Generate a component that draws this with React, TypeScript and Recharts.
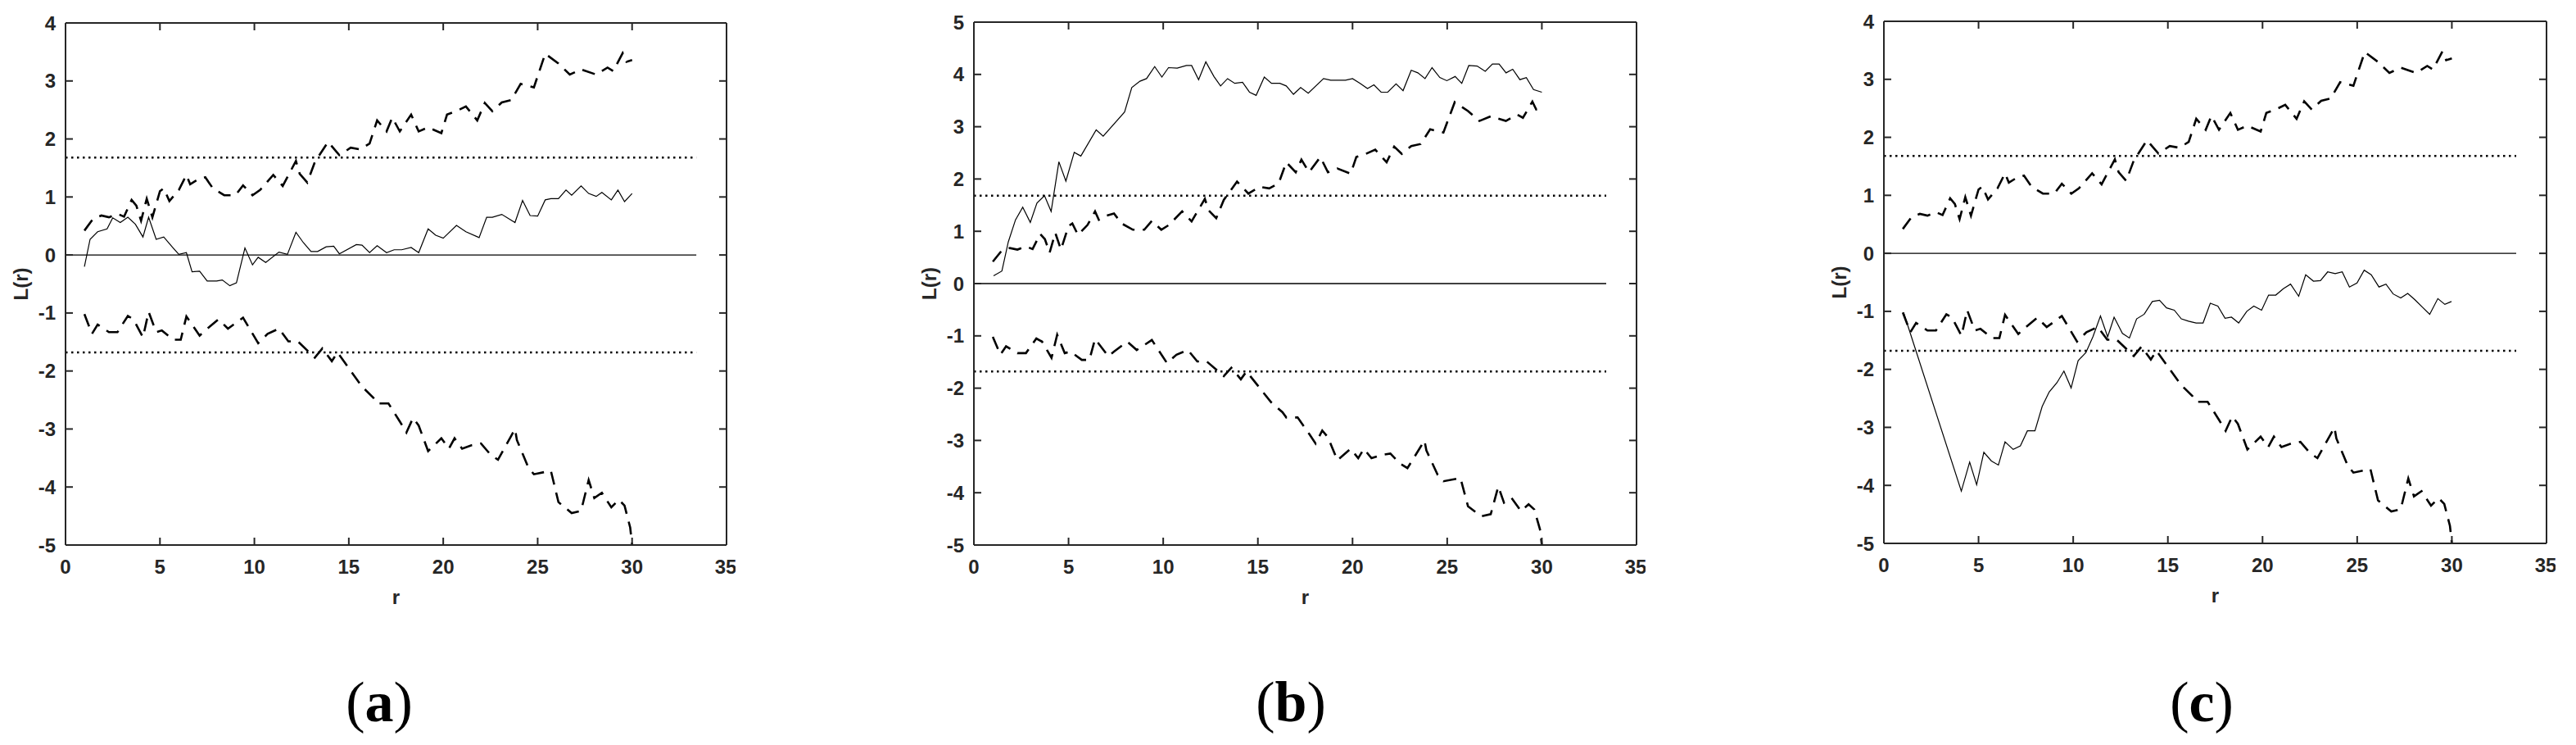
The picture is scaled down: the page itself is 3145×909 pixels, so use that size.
import React from "react";
import {
  LineChart,
  Line,
  XAxis,
  YAxis,
  ReferenceLine,
  Label,
} from "recharts";

/* ── Data (r, L(r)) ─────────────────────────────────────────── */
type Pt = [number, number];

const upperEnvelope: Pt[] = [
  [1.0, 0.42], [1.45, 0.62], [1.9, 0.68], [2.3, 0.65], [2.75, 0.71], [3.1, 0.66],
  [3.5, 0.95], [3.75, 0.85], [4.0, 0.59], [4.3, 0.97], [4.6, 0.65], [5.0, 1.1],
  [5.2, 1.15], [5.5, 0.93], [6.0, 1.12], [6.4, 1.38], [6.6, 1.22], [7.0, 1.3],
  [7.4, 1.34], [7.8, 1.15], [8.4, 1.03], [9.0, 1.03], [9.4, 1.2], [9.9, 1.03],
  [10.3, 1.12], [11.0, 1.38], [11.5, 1.19], [12.2, 1.62], [12.4, 1.4], [12.8, 1.25],
  [13.2, 1.6], [13.9, 1.95], [14.5, 1.72], [15.1, 1.85], [15.6, 1.82], [16.1, 1.92],
  [16.5, 2.32], [17.0, 2.13], [17.3, 2.37], [17.7, 2.13], [18.3, 2.42], [18.7, 2.13],
  [19.2, 2.2], [19.9, 2.1], [20.2, 2.42], [20.7, 2.48], [21.2, 2.56], [21.8, 2.32],
  [22.2, 2.62], [22.6, 2.48], [23.1, 2.63], [23.6, 2.67], [24.1, 2.95], [24.8, 2.89],
  [25.4, 3.47], [26.1, 3.3], [26.7, 3.11], [27.3, 3.2], [28.1, 3.11], [28.7, 3.23],
  [29.0, 3.17], [29.5, 3.48], [29.7, 3.33], [30.0, 3.36],
];

const lowerEnvelope: Pt[] = [
  [1.0, -1.02], [1.4, -1.36], [1.7, -1.2], [2.3, -1.33], [2.75, -1.33], [3.3, -1.05],
  [3.6, -1.11], [4.1, -1.42], [4.4, -0.98], [4.8, -1.33], [5.1, -1.3], [5.7, -1.46],
  [6.1, -1.46], [6.4, -1.06], [7.1, -1.39], [7.4, -1.3], [8.1, -1.11], [8.6, -1.27],
  [8.9, -1.2], [9.4, -1.08], [10.2, -1.52], [10.7, -1.36], [11.3, -1.27], [11.8, -1.49],
  [12.3, -1.49], [13.2, -1.77], [13.6, -1.61], [14.1, -1.83], [14.4, -1.68], [15.7, -2.27],
  [16.3, -2.46], [16.5, -2.56], [17.1, -2.56], [17.7, -2.87], [18.05, -3.06], [18.4, -2.81],
  [18.7, -2.94], [19.2, -3.38], [19.9, -3.16], [20.3, -3.34], [20.6, -3.16], [21.0, -3.34],
  [21.5, -3.28], [22.0, -3.25], [22.5, -3.44], [22.9, -3.53], [23.6, -3.12], [23.8, -3.0],
  [23.9, -3.19], [24.5, -3.66], [24.8, -3.78], [25.7, -3.72], [26.1, -4.26], [26.8, -4.45],
  [27.3, -4.41], [27.7, -3.88], [28.0, -4.19], [28.4, -4.1], [28.9, -4.35], [29.3, -4.22],
  [29.6, -4.32], [29.9, -4.7], [30.0, -5.0],
];

const observedA: Pt[] = [
  [1.0, -0.2], [1.3, 0.27], [1.7, 0.4], [2.2, 0.45], [2.5, 0.64], [2.9, 0.56],
  [3.3, 0.65], [3.7, 0.53], [4.1, 0.31], [4.4, 0.65], [4.8, 0.27], [5.2, 0.31],
  [5.7, 0.12], [6.0, 0.01], [6.4, 0.04], [6.7, -0.29], [7.1, -0.28], [7.5, -0.45],
  [8.0, -0.45], [8.3, -0.43], [8.7, -0.53], [9.05, -0.48], [9.5, 0.12], [9.9, -0.17],
  [10.2, -0.04], [10.6, -0.13], [11.3, 0.05], [11.75, 0.01], [12.2, 0.39], [12.6, 0.21],
  [13.0, 0.06], [13.35, 0.06], [13.8, 0.14], [14.2, 0.15], [14.5, 0.02], [15.4, 0.18],
  [15.7, 0.17], [16.1, 0.04], [16.5, 0.16], [17.0, 0.04], [17.4, 0.09], [17.8, 0.09],
  [18.3, 0.13], [18.7, 0.04], [19.2, 0.45], [19.6, 0.34], [20.0, 0.29], [20.7, 0.51],
  [21.2, 0.4], [21.9, 0.3], [22.3, 0.65], [22.6, 0.65], [23.1, 0.7], [23.8, 0.56],
  [24.2, 0.94], [24.6, 0.68], [25.0, 0.67], [25.4, 0.95], [25.7, 0.97], [26.1, 0.97],
  [26.5, 1.12], [26.8, 1.03], [27.3, 1.19], [27.7, 1.06], [28.1, 1.01], [28.4, 1.08],
  [28.9, 0.95], [29.25, 1.12], [29.6, 0.92], [30.0, 1.06],
];

const observedB: Pt[] = [
  [1.04, 0.15], [1.48, 0.24], [1.82, 0.8], [2.2, 1.22], [2.58, 1.46], [2.98, 1.17],
  [3.33, 1.54], [3.73, 1.68], [4.08, 1.38], [4.49, 2.33], [4.86, 1.96], [5.3, 2.51],
  [5.65, 2.44], [6.46, 2.94], [6.83, 2.82], [7.96, 3.28], [8.34, 3.75], [8.77, 3.87],
  [9.12, 3.92], [9.55, 4.15], [9.93, 3.95], [10.28, 4.13], [10.74, 4.12], [11.23, 4.17],
  [11.5, 4.17], [11.87, 3.9], [12.25, 4.24], [12.68, 3.96], [13.03, 3.78], [13.4, 3.92],
  [13.78, 3.83], [14.19, 3.85], [14.56, 3.66], [14.91, 3.6], [15.34, 3.95], [15.72, 3.83],
  [16.16, 3.83], [16.5, 3.78], [16.88, 3.62], [17.26, 3.75], [17.66, 3.64], [18.47, 3.92],
  [18.85, 3.89], [19.63, 3.89], [20.0, 3.92], [20.4, 3.83], [20.79, 3.73], [21.13, 3.8],
  [21.51, 3.66], [21.86, 3.66], [22.3, 3.82], [22.67, 3.69], [23.1, 4.08], [23.45, 4.03],
  [23.83, 3.92], [24.2, 4.13], [24.61, 3.94], [24.98, 3.88], [25.42, 3.96], [25.77, 3.83],
  [26.14, 4.17], [26.58, 4.16], [27.01, 4.06], [27.39, 4.2], [27.74, 4.2], [28.11, 4.03],
  [28.46, 4.1], [28.84, 3.9], [29.18, 3.94], [29.56, 3.71], [30.0, 3.66],
];

const observedC: Pt[] = [
  [1.04, -1.02], [4.09, -4.1], [4.53, -3.6], [4.9, -3.99], [5.28, -3.43], [5.68, -3.58],
  [6.05, -3.65], [6.4, -3.25], [6.83, -3.38], [7.21, -3.32], [7.58, -3.06], [7.98, -3.06],
  [8.36, -2.64], [8.73, -2.39], [9.14, -2.23], [9.51, -2.03], [9.89, -2.32], [10.26, -1.85],
  [10.67, -1.71], [11.04, -1.44], [11.44, -1.08], [11.82, -1.44], [12.16, -1.1], [12.6, -1.38],
  [12.97, -1.46], [13.35, -1.13], [13.75, -1.05], [14.18, -0.83], [14.56, -0.81], [14.93, -0.94],
  [15.34, -0.98], [15.71, -1.13], [16.09, -1.17], [16.49, -1.2], [16.86, -1.2], [17.24, -0.86],
  [17.64, -0.91], [18.02, -1.12], [18.36, -1.1], [18.74, -1.2], [19.17, -1.0], [19.54, -0.91],
  [19.95, -0.98], [20.32, -0.72], [20.7, -0.72], [21.1, -0.61], [21.48, -0.53], [21.91, -0.74],
  [22.28, -0.37], [22.69, -0.48], [23.06, -0.47], [23.44, -0.32], [23.84, -0.35], [24.21, -0.32],
  [24.59, -0.58], [24.99, -0.51], [25.37, -0.29], [25.74, -0.37], [26.15, -0.58], [26.52, -0.53],
  [26.9, -0.7], [27.3, -0.77], [27.67, -0.69], [28.05, -0.8], [28.45, -0.93], [28.83, -1.05],
  [29.26, -0.78], [29.63, -0.88], [29.98, -0.83],
];

const xTicks = [0, 5, 10, 15, 20, 25, 30, 35];
const yTicks4 = [-5, -4, -3, -2, -1, 0, 1, 2, 3, 4];
const yTicks5 = [-5, -4, -3, -2, -1, 0, 1, 2, 3, 4, 5];
const criticalValue = 1.68;
const refLineEnd = 33.4;
const captions = ["a", "b", "c"];

/* ── Styling ────────────────────────────────────────────────── */
const axisColor = "#262626";
const sans = "'Liberation Sans', Arial, sans-serif";
const tickStyle = { fill: axisColor, fontSize: 24, fontWeight: 700, fontFamily: sans };
const noTick = () => <g />;
const toPts = (a: Pt[]) => a.map(([r, L]) => ({ r, L }));

type PanelCfg = {
  left: number;
  right: number;
  top: number;
  bottom: number;
  yMax: number;
  yTicks: number[];
  observed: Pt[];
  captionX: number;
};

const panels: PanelCfg[] = [
  { left: 80, right: 888, top: 27, bottom: 665, yMax: 4, yTicks: yTicks4, observed: observedA, captionX: 463 },
  { left: 1189, right: 1999, top: 26, bottom: 665, yMax: 5, yTicks: yTicks5, observed: observedB, captionX: 1576 },
  { left: 2300, right: 3110, top: 25, bottom: 663, yMax: 4, yTicks: yTicks4, observed: observedC, captionX: 2688 },
];

const Y_AXIS_W = 80;
const X_AXIS_H = 40;
const CHART_H = 760;
const RIGHT_PAD = 10;

function Panel({ cfg }: { cfg: PanelCfg }) {
  const width = Y_AXIS_W + (cfg.right - cfg.left) + RIGHT_PAD;
  const domainY: [number, number] = [-5, cfg.yMax];
  return (
    <div style={{ position: "absolute", left: cfg.left - Y_AXIS_W, top: 0 }}>
      <LineChart
        width={width}
        height={CHART_H}
        margin={{ top: cfg.top, right: RIGHT_PAD, left: 0, bottom: CHART_H - cfg.bottom - X_AXIS_H }}
      >
        <XAxis
          type="number"
          dataKey="r"
          domain={[0, 35]}
          ticks={xTicks}
          height={X_AXIS_H}
          tick={tickStyle}
          tickSize={-9}
          tickMargin={27}
          stroke={axisColor}
          strokeWidth={2}
        >
          <Label
            value="r"
            position="bottom"
            offset={15}
            style={{ fill: axisColor, fontSize: 24, fontWeight: 700, fontFamily: sans }}
          />
        </XAxis>
        {/* mirrored frame: top and right axes with inward ticks */}
        <XAxis
          xAxisId="top"
          orientation="top"
          type="number"
          dataKey="r"
          domain={[0, 35]}
          ticks={xTicks}
          height={1}
          tick={noTick}
          tickSize={-9}
          stroke={axisColor}
          strokeWidth={2}
        />
        <YAxis
          type="number"
          domain={domainY}
          ticks={cfg.yTicks}
          width={Y_AXIS_W}
          tick={tickStyle}
          tickSize={-9}
          tickMargin={21}
          stroke={axisColor}
          strokeWidth={2}
        >
          <Label
            value="L(r)"
            angle={-90}
            position="insideLeft"
            offset={25}
            style={{ fill: axisColor, fontSize: 24, fontWeight: 700, fontFamily: sans, textAnchor: "middle" }}
          />
        </YAxis>
        <YAxis
          yAxisId="right"
          orientation="right"
          type="number"
          domain={domainY}
          ticks={cfg.yTicks}
          width={1}
          tick={noTick}
          tickSize={-9}
          stroke={axisColor}
          strokeWidth={2}
        />

        {/* zero line and ±critical value */}
        <ReferenceLine
          segment={[{ x: 0, y: 0 }, { x: refLineEnd, y: 0 }]}
          stroke="#000"
          strokeWidth={1.3}
        />
        <ReferenceLine
          segment={[{ x: 0, y: criticalValue }, { x: refLineEnd, y: criticalValue }]}
          stroke="#000"
          strokeWidth={2.4}
          strokeDasharray="2.5 4.5"
        />
        <ReferenceLine
          segment={[{ x: 0, y: -criticalValue }, { x: refLineEnd, y: -criticalValue }]}
          stroke="#000"
          strokeWidth={2.4}
          strokeDasharray="2.5 4.5"
        />

        <Line
          data={toPts(upperEnvelope)}
          dataKey="L"
          type="linear"
          stroke="#000"
          strokeWidth={2.6}
          strokeDasharray="16 10"
          dot={false}
          activeDot={false}
          isAnimationActive={false}
        />
        {/* lower envelope is bound to the mirrored axes (same domains) so they get data */}
        <Line
          data={toPts(lowerEnvelope)}
          dataKey="L"
          xAxisId="top"
          yAxisId="right"
          type="linear"
          stroke="#000"
          strokeWidth={2.6}
          strokeDasharray="16 10"
          dot={false}
          activeDot={false}
          isAnimationActive={false}
        />
        <Line
          data={toPts(cfg.observed)}
          dataKey="L"
          type="linear"
          stroke="#000"
          strokeWidth={1.2}
          dot={false}
          activeDot={false}
          isAnimationActive={false}
        />
      </LineChart>
    </div>
  );
}

export default function App() {
  return (
    <div
      style={{
        position: "absolute",
        left: 0,
        top: 0,
        width: 3145,
        height: 909,
        background: "#fff",
        overflow: "hidden",
      }}
    >
      {panels.map((p, i) => (
        <Panel key={i} cfg={p} />
      ))}
      <svg
        width={3145}
        height={909}
        style={{ position: "absolute", left: 0, top: 0, pointerEvents: "none" }}
      >
        {panels.map((p, i) => (
          <text
            key={i}
            x={p.captionX}
            y={880}
            textAnchor="middle"
            fontFamily="'Liberation Serif', 'Times New Roman', serif"
            fontSize={70}
            fill="#000"
          >
            (<tspan fontWeight={700}>{captions[i]}</tspan>)
          </text>
        ))}
      </svg>
    </div>
  );
}
